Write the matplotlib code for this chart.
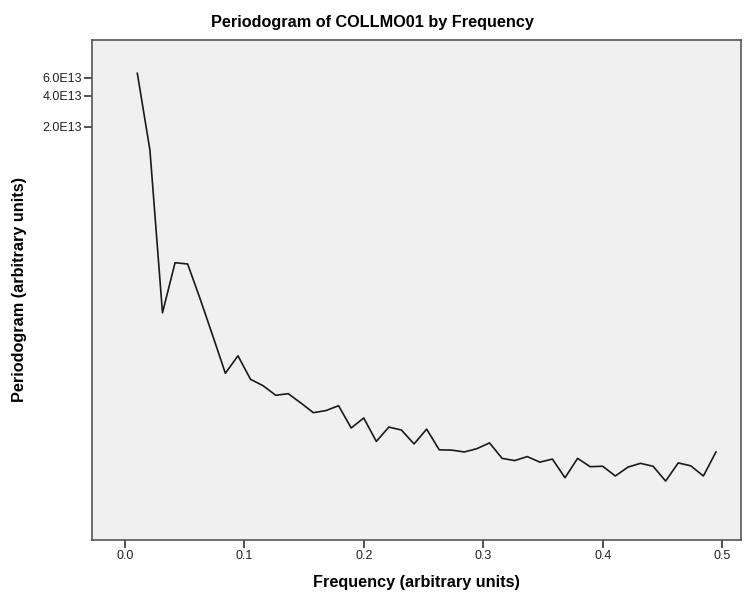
import matplotlib
matplotlib.use("Agg")
import matplotlib.pyplot as plt
from matplotlib.ticker import FixedLocator, FixedFormatter, NullLocator

plt.rcParams["font.family"] = ["Liberation Sans", "DejaVu Sans"]

# periodogram ordinates at frequencies k/95, k = 1..47
n_obs = 95
harmonics = list(range(1, 48))
periodogram = [
    6.62e13, 1.20e13, 3.18e11, 9.71e11, 9.44e11, 4.32e11, 1.90e11, 8.26e10,
    1.22e11, 7.22e10, 6.26e10, 5.06e10, 5.24e10, 4.26e10, 3.43e10, 3.60e10,
    4.01e10, 2.44e10, 3.05e10, 1.81e10, 2.49e10, 2.33e10, 1.71e10, 2.38e10,
    1.50e10, 1.49e10, 1.43e10, 1.54e10, 1.75e10, 1.24e10, 1.18e10, 1.29e10,
    1.14e10, 1.22e10, 8.05e9, 1.24e10, 1.03e10, 1.04e10, 8.37e9, 1.02e10,
    1.11e10, 1.04e10, 7.48e9, 1.12e10, 1.05e10, 8.37e9, 1.43e10,
]
frequency = [k / n_obs for k in harmonics]

y_ticks = [2.0e13, 4.0e13, 6.0e13]
y_tick_labels = ["2.0E13", "4.0E13", "6.0E13"]
x_ticks = [0.0, 0.1, 0.2, 0.3, 0.4, 0.5]
x_tick_labels = ["0.0", "0.1", "0.2", "0.3", "0.4", "0.5"]

fig = plt.figure(figsize=(7.44, 5.95), dpi=100)
ax = fig.add_axes([92 / 744, 1 - 540 / 595, 649 / 744, 500 / 595])
ax.set_facecolor("#f0f0f0")

ax.plot(frequency, periodogram, color="#1a1a1a", linewidth=1.2)

ax.set_yscale("log")
ax.set_ylim(2.01e9, 1.39e14)
ax.set_xlim(-0.0274, 0.5157)

ax.yaxis.set_major_locator(FixedLocator(y_ticks))
ax.yaxis.set_major_formatter(FixedFormatter(y_tick_labels))
ax.yaxis.set_minor_locator(NullLocator())
ax.set_xticks(x_ticks)
ax.set_xticklabels(x_tick_labels)

ax.tick_params(axis="both", direction="out", length=5.5, width=1.2,
               color="#333333", labelsize=9, labelcolor="#222222", pad=1.5)

for side in ["left", "bottom", "top", "right"]:
    ax.spines[side].set_color("#555555")
    ax.spines[side].set_linewidth(1.2)

fig.text(416 / 744, 1 - 582 / 595, "Frequency (arbitrary units)",
         ha="center", va="center", fontsize=11.7, fontweight="bold")
fig.text(20 / 744, 1 - 290 / 595, "Periodogram (arbitrary units)",
         ha="center", va="center", rotation=90, fontsize=11.7,
         fontweight="bold")
fig.text(0.5, 1 - 22 / 595, "Periodogram of COLLMO01 by Frequency",
         ha="center", va="center", fontsize=11.7, fontweight="bold")

fig.savefig("out.png", dpi=100)
